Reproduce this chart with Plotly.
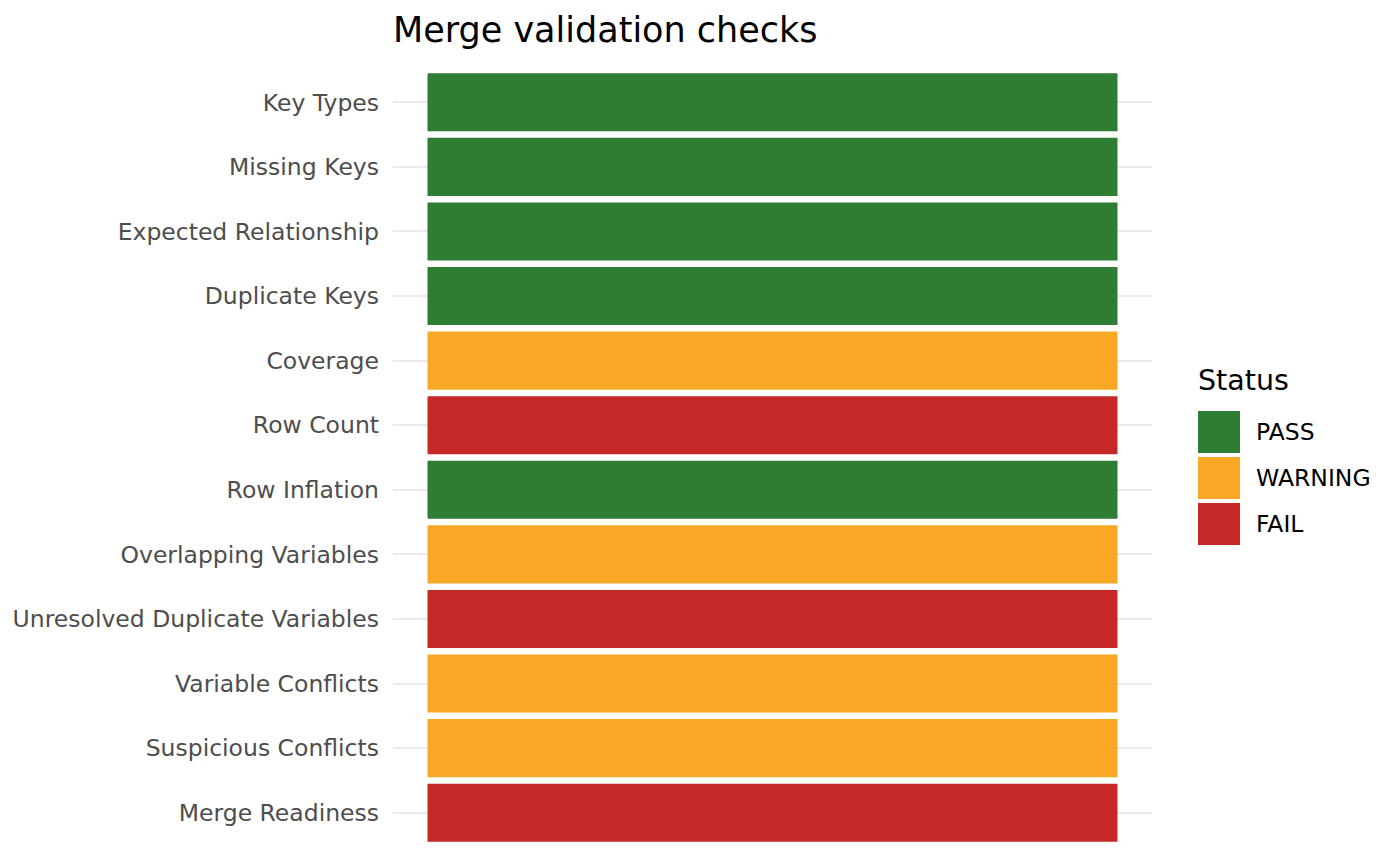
import plotly.graph_objects as go

checks = ["Key Types", "Missing Keys", "Expected Relationship", "Duplicate Keys",
          "Coverage", "Row Count", "Row Inflation", "Overlapping Variables",
          "Unresolved Duplicate Variables", "Variable Conflicts",
          "Suspicious Conflicts", "Merge Readiness"]
status = ["PASS", "PASS", "PASS", "PASS", "WARNING", "FAIL", "PASS", "WARNING",
          "FAIL", "WARNING", "WARNING", "FAIL"]
levels = ["PASS", "WARNING", "FAIL"]
colors = {"PASS": "#2E7D32", "WARNING": "#F9A825", "FAIL": "#C62828"}

# page body has an 8px margin, so the figure is drawn a bit smaller
OFF = 8
W, H = 1400 - OFF, 866 - OFF
L, R, T, B = 393 - OFF, 248, 70 - OFF, 21
pw, ph = W - L - R, H - T - B

def px(x):
    return (x - OFF - L) / pw

def py(y):
    return (H - B - (y - OFF)) / ph

fig = go.Figure()
for s in levels:
    ys = [c for c, st in zip(checks, status) if st == s]
    fig.add_trace(go.Bar(
        y=ys, x=[1] * len(ys), orientation="h", width=0.9,
        marker=dict(color=colors[s], line=dict(width=0)),
        name=s, showlegend=False,
        hovertemplate="%{y}: " + s + "<extra></extra>",
    ))

# legend drawn by hand so the keys can be big squares like ggplot
shapes, notes = [], []
notes.append(dict(x=px(1196), y=py(381), xref="paper", yref="paper", text="Status",
                  showarrow=False, xanchor="left", yanchor="middle",
                  font=dict(size=28.5, color="black")))
for i, s in enumerate(levels):
    top = 411 + i * 46
    shapes.append(dict(type="rect", xref="paper", yref="paper",
                       x0=px(1198), x1=px(1240), y0=py(top + 42), y1=py(top),
                       fillcolor=colors[s], line=dict(width=0)))
    notes.append(dict(x=px(1254), y=py(top + 21), xref="paper", yref="paper", text=s,
                      showarrow=False, xanchor="left", yanchor="middle",
                      font=dict(size=23.5, color="black")))

fig.update_layout(
    width=W, height=H,
    margin=dict(l=L, r=R, t=T, b=B, autoexpand=False),
    barmode="overlay",
    plot_bgcolor="white", paper_bgcolor="white",
    font=dict(family="DejaVu Sans"),
    title=dict(text="Merge validation checks", x=0, xanchor="left",
               y=1 - (30 - OFF) / H, yanchor="middle", xref="paper",
               font=dict(size=35, color="black")),
    xaxis=dict(range=[-0.05, 1.05], showticklabels=False, showgrid=False,
               zeroline=False, fixedrange=True, automargin=False),
    yaxis=dict(categoryorder="array", categoryarray=checks[::-1],
               range=[-0.5, len(checks) - 0.5], showgrid=True,
               gridcolor="#EBEBEB", gridwidth=2, zeroline=False,
               ticklabelstandoff=13, automargin=False,
               tickfont=dict(size=23.5, color="#4D4D4D")),
    shapes=shapes, annotations=notes,
    showlegend=False,
)

fig.write_html("out.html")
